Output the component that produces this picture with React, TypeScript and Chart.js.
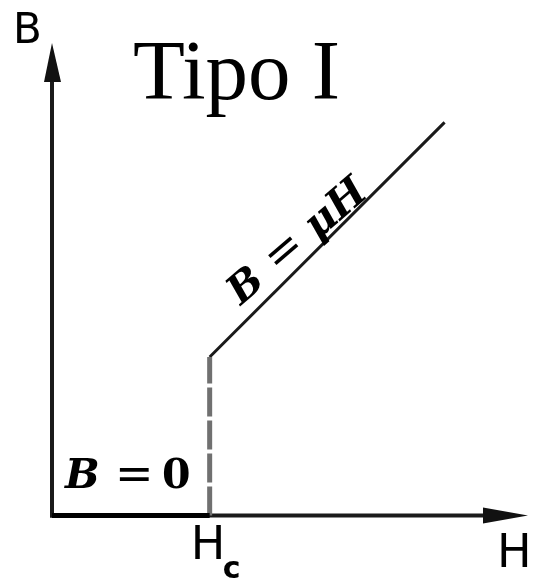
import React, { useEffect, useRef } from "react";
import { Chart, registerables } from "chart.js";

Chart.register(...registerables);

// ---- data ----
const titleText = "Tipo I";
const xAxisLabel = "H";
const yAxisLabel = "B";
const criticalLabel = ["H", "c"];
const meissnerLabel = ["B", "=", "0"];
const linearLabel = ["B", "=", "μH"];

const xRange = [0, 3];
const yRange = [0, 3];

const meissnerH = [0, 1];
const meissnerB = [0, 0];
const transitionH = [1, 1];
const transitionB = [0, 1];
const normalH = [1, 2.49];
const normalB = [1, 2.48];

const toPoints = (xs: number[], ys: number[]) => xs.map((x, i) => ({ x, y: ys[i] }));

const drawPlugin = {
  id: "phaseDiagram",
  beforeDatasetsDraw(chart: any) {
    const { ctx, chartArea, scales } = chart;
    const x0 = scales.x.getPixelForValue(0);
    const y0 = scales.y.getPixelForValue(0);
    ctx.save();
    ctx.strokeStyle = "#1a1a1a";
    ctx.fillStyle = "#111";
    ctx.lineWidth = 4;
    // y axis
    ctx.beginPath();
    ctx.moveTo(x0, y0 + 2);
    ctx.lineTo(x0, chartArea.top + 30);
    ctx.stroke();
    ctx.beginPath();
    ctx.moveTo(x0, chartArea.top + 3);
    ctx.lineTo(x0 - 8, chartArea.top + 42);
    ctx.lineTo(x0 + 9, chartArea.top + 42);
    ctx.closePath();
    ctx.fill();
    // x axis
    ctx.beginPath();
    ctx.moveTo(x0 - 2, y0);
    ctx.lineTo(chartArea.right - 30, y0);
    ctx.stroke();
    ctx.beginPath();
    ctx.moveTo(chartArea.right + 3, y0);
    ctx.lineTo(chartArea.right - 42, y0 - 8);
    ctx.lineTo(chartArea.right - 42, y0 + 8);
    ctx.closePath();
    ctx.fill();
    ctx.restore();
  },
  afterDraw(chart: any) {
    const { ctx, chartArea, scales } = chart;
    const x0 = scales.x.getPixelForValue(0);
    const y0 = scales.y.getPixelForValue(0);
    const xc = scales.x.getPixelForValue(transitionH[0]);
    ctx.save();
    ctx.fillStyle = "#000";
    ctx.textBaseline = "alphabetic";
    ctx.textAlign = "left";
    // axis labels
    ctx.font = "42px 'DejaVu Sans'";
    ctx.fillText(yAxisLabel, x0 - 39, chartArea.top + 3);
    ctx.font = "46px 'DejaVu Sans'";
    ctx.fillText(xAxisLabel, chartArea.right - 28, y0 + 51);
    // Hc
    ctx.font = "46px 'DejaVu Sans'";
    ctx.fillText(criticalLabel[0], xc - 19, y0 + 43);
    ctx.font = "bold 30px 'DejaVu Sans'";
    ctx.fillText(criticalLabel[1], xc + 13, y0 + 62);
    // title
    ctx.font = "85px 'Liberation Serif'";
    ctx.fillText(titleText, x0 + 81, chartArea.top + 59);
    // B = 0
    const by = y0 - 28;
    ctx.font = "italic bold 41px 'DejaVu Serif'";
    ctx.fillText(meissnerLabel[0], x0 + 13, by);
    ctx.font = "46px 'DejaVu Serif'";
    ctx.fillText(meissnerLabel[1], x0 + 63, by + 1);
    ctx.font = "bold 41px 'DejaVu Serif'";
    ctx.fillText(meissnerLabel[2], x0 + 110, by);
    // B = μH along line
    const p0x = scales.x.getPixelForValue(normalH[0]);
    const p0y = scales.y.getPixelForValue(normalB[0]);
    const p1x = scales.x.getPixelForValue(normalH[1]);
    const p1y = scales.y.getPixelForValue(normalB[1]);
    const ang = Math.atan2(p1y - p0y, p1x - p0x);
    const ux = Math.cos(ang), uy = Math.sin(ang);
    const nx = uy, ny = -ux; // "up" normal
    const along = 58, lift = 14;
    ctx.translate(p0x + ux * along + nx * lift, p0y + uy * along + ny * lift);
    ctx.rotate(ang + 0.075);
    ctx.font = "italic bold 40px 'DejaVu Serif'";
    ctx.fillText(linearLabel[0], 0, 0);
    ctx.font = "46px 'DejaVu Serif'";
    ctx.fillText(linearLabel[1], 49, 0);
    ctx.font = "italic bold 41px 'DejaVu Serif'";
    ctx.fillText(linearLabel[2], 101, 0);
    ctx.restore();
  },
};

export default function App() {
  const ref = useRef<HTMLCanvasElement | null>(null);
  useEffect(() => {
    if (!ref.current) return;
    const chart = new Chart(ref.current, {
      type: "scatter",
      data: {
        datasets: [
          {
            data: toPoints(meissnerH, meissnerB),
            showLine: true,
            borderColor: "#000",
            borderWidth: 5,
            pointRadius: 0,
            clip: false as any,
          },
          {
            data: toPoints(transitionH, transitionB),
            showLine: true,
            borderColor: "#707070",
            borderWidth: 5,
            borderDash: [29, 4],
            pointRadius: 0,
            clip: false as any,
          },
          {
            data: toPoints(normalH, normalB),
            showLine: true,
            borderColor: "#1a1a1a",
            borderWidth: 3,
            pointRadius: 0,
            clip: false as any,
          },
        ],
      },
      options: {
        responsive: false,
        animation: false,
        devicePixelRatio: 1,
        layout: { padding: { left: 52, right: 8, top: 40, bottom: 65.5 } },
        plugins: { legend: { display: false }, tooltip: { enabled: false }, title: { display: false } },
        scales: {
          x: { type: "linear", min: xRange[0], max: xRange[1], display: false },
          y: { type: "linear", min: yRange[0], max: yRange[1], display: false },
        },
      },
      plugins: [drawPlugin],
    });
    return () => chart.destroy();
  }, []);
  return (
    <div style={{ position: "absolute", left: 0, top: 0, width: 533, height: 581, background: "#fff" }}>
      <canvas ref={ref} width={533} height={581} style={{ display: "block" }} />
    </div>
  );
}
